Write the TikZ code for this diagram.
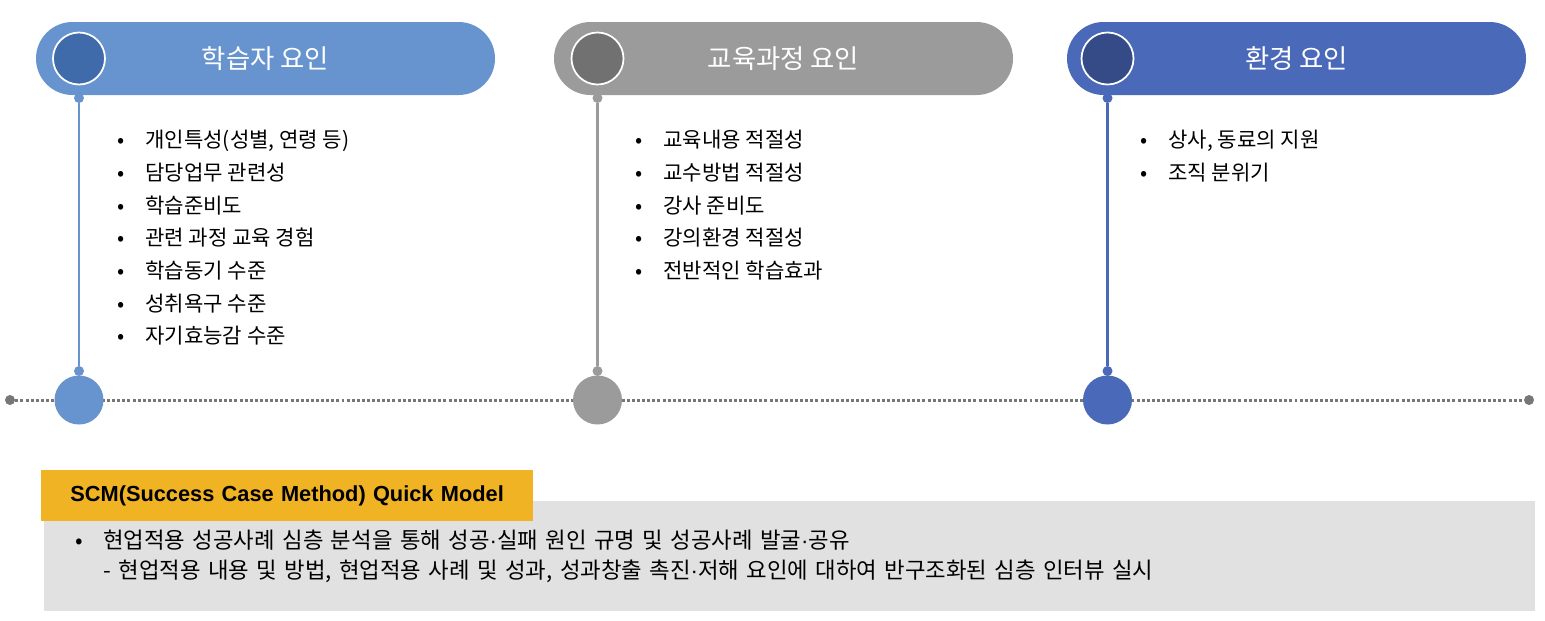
\documentclass[tikz,border=0pt]{standalone}
\usepackage{fontspec}
\setmainfont{Noto Sans CJK KR}
\newfontfamily\titlefont{Liberation Sans}
\usetikzlibrary{shapes.misc}
\definecolor{lrnfill}{HTML}{6794CE}
\definecolor{lrndark}{HTML}{3F6BAA}
\definecolor{crsfill}{HTML}{9B9B9B}
\definecolor{crsdark}{HTML}{717171}
\definecolor{envfill}{HTML}{4A69B9}
\definecolor{envdark}{HTML}{344B88}
\definecolor{tlgray}{HTML}{777777}
\definecolor{scmgold}{HTML}{F0B323}
\definecolor{scmbox}{HTML}{E1E1E1}
\newcommand{\bul}{\makebox[0.56cm][l]{•}}
\newcommand{\mdot}{{\titlefont ·}}
\tikzset{
  head/.style={rounded rectangle, minimum width=9.18cm, minimum height=1.46cm,
    inner sep=0pt, text=white, font=\fontsize{15}{18}\selectfont},
  badge/.style={circle, draw=white, line width=1pt, minimum size=1.04cm, inner sep=0pt},
  pin/.style={circle, minimum size=0.2cm, inner sep=0pt},
  hub/.style={circle, minimum size=0.98cm, inner sep=0pt},
  stem/.style={line width=1.7pt},
  items/.style={anchor=north west, align=left, inner sep=0pt,
    font=\fontsize{12}{18.6}\selectfont},
  timeline/.style={draw=tlgray, line width=1.7pt, dash pattern=on 1.7pt off 1.2pt},
  scmtitle/.style={anchor=north west, fill=scmgold, minimum width=9.84cm, minimum height=1.02cm,
    text width=8.68cm, inner xsep=0.58cm, inner ysep=0pt, align=left,
    font=\titlefont\bfseries\fontsize{12.4}{14}\selectfont},
  scmbody/.style={anchor=north west, fill=scmbox, minimum width=29.82cm, minimum height=2.2cm,
    text width=28.58cm, inner xsep=0.62cm, inner ysep=0pt, align=left,
    font=\fontsize{12.7}{17.6}\selectfont},
}

\begin{document}
\begin{tikzpicture}
\useasboundingbox (0,0) rectangle (30.9,-12.4);

% ---- Timeline with one hub per factor group
\node[pin, fill=tlgray] (tlstart) at (0.2,-8.0) {};
\node[pin, fill=tlgray] (tlend)   at (30.58,-8.0) {};
\draw[timeline] (tlstart) -- (tlend);
\node[hub, fill=lrnfill] (lhub) at (1.58,-8.0) {};
\node[hub, fill=crsfill] (chub) at (11.95,-8.0) {};
\node[hub, fill=envfill] (ehub) at (22.15,-8.0) {};

% ---- Headers
\node[head, fill=lrnfill] (learner) at (5.31,-1.17)  {학습자 요인};
\node[head, fill=crsfill] (course)  at (15.67,-1.17) {교육과정 요인};
\node[head, fill=envfill] (env)     at (25.93,-1.17) {환경 요인};
\node[badge, fill=lrndark] (lbadge) at (1.58,-1.17)  {};
\node[badge, fill=crsdark] (cbadge) at (11.95,-1.17) {};
\node[badge, fill=envdark] (ebadge) at (22.15,-1.17) {};

% ---- Stems from header to hub
\node[pin, fill=lrnfill] (ltop) at (1.58,-1.96)  {};
\node[pin, fill=lrnfill] (lbot) at (1.58,-7.42)  {};
\node[pin, fill=crsfill] (ctop) at (11.95,-1.96) {};
\node[pin, fill=crsfill] (cbot) at (11.95,-7.42) {};
\node[pin, fill=envfill] (etop) at (22.15,-1.96) {};
\node[pin, fill=envfill] (ebot) at (22.15,-7.42) {};
\draw[stem, lrnfill] (ltop) -- (lbot);
\draw[stem, crsfill] (ctop) -- (cbot);
\draw[stem, envfill] (etop) -- (ebot);

% ---- Factor lists
\node[items] (llist) at (2.34,-2.6) {\bul 개인특성(성별, 연령 등)\\ \bul 담당업무 관련성\\
  \bul 학습준비도\\ \bul 관련 과정 교육 경험\\ \bul 학습동기 수준\\ \bul 성취욕구 수준\\
  \bul 자기효능감 수준};
\node[items] (clist) at (12.7,-2.6) {\bul 교육내용 적절성\\ \bul 교수방법 적절성\\
  \bul 강사 준비도\\ \bul 강의환경 적절성\\ \bul 전반적인 학습효과};
\node[items] (elist) at (22.8,-2.6) {\bul 상사, 동료의 지원\\ \bul 조직 분위기};

% ---- SCM summary
\node[scmbody] (scm) at (0.88,-10.02) {\bul 현업적용 성공사례 심층 분석을 통해 성공\mdot 실패 원인 규명 및 성공사례 발굴\mdot 공유\\
  \hspace*{0.56cm}- 현업적용 내용 및 방법, 현업적용 사례 및 성과, 성과창출 촉진\mdot 저해 요인에 대하여 반구조화된 심층 인터뷰 실시};
\node[scmtitle] (scmhead) at (0.82,-9.4) {SCM(Success Case Method) Quick Model};

\end{tikzpicture}
\end{document}
